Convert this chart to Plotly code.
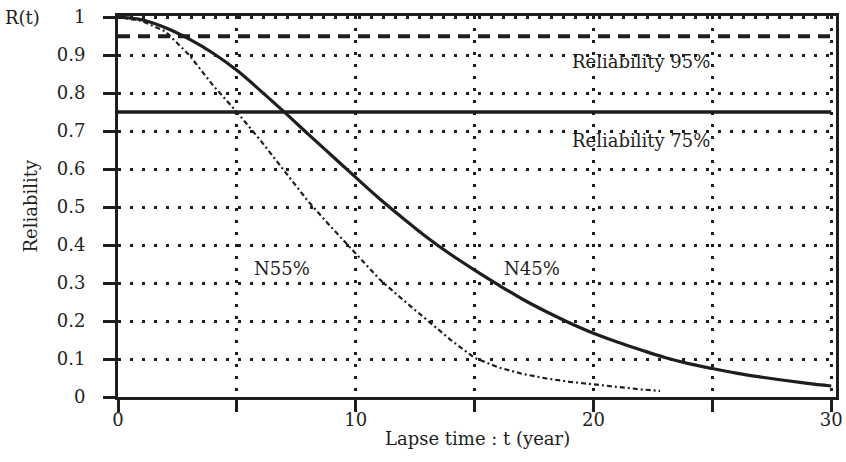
import plotly.graph_objects as go

# Data
t_n45 = [0, 1, 2, 3, 4, 5, 6, 7, 8, 9, 10, 11, 12, 13, 14, 15, 16, 17, 18, 19, 20,
         21, 22, 23, 24, 25, 26, 27, 28, 29, 30]
r_n45 = [1.0, 0.993, 0.972, 0.942, 0.905, 0.86, 0.806, 0.75, 0.692, 0.635, 0.578,
         0.522, 0.47, 0.42, 0.375, 0.334, 0.295, 0.258, 0.225, 0.195, 0.168,
         0.145, 0.124, 0.104, 0.088, 0.075, 0.063, 0.053, 0.044, 0.036, 0.029]

t_n55 = [0, 1, 2, 3, 4, 5, 6, 7, 8, 9, 10, 11, 12, 13, 14, 15, 16, 17, 18, 19, 20,
         21, 22, 22.8]
r_n55 = [1.0, 0.99, 0.962, 0.9, 0.82, 0.75, 0.675, 0.595, 0.515, 0.445, 0.378,
         0.31, 0.255, 0.203, 0.15, 0.103, 0.078, 0.061, 0.049, 0.04, 0.033,
         0.026, 0.02, 0.016]

level_values = [0.95, 0.75]
level_labels = ["Reliability 95%", "Reliability 75%"]
level_label_y = [0.882, 0.676]
x_range = [0, 30]

curve_labels = ["N55%", "N45%"]
curve_label_x = [6.9, 17.4]
curve_label_y = [0.338, 0.338]

x_tickvals = [0, 5, 10, 15, 20, 25, 30]
x_ticktext = ["0", "", "10", "", "20", "", "30"]
y_tickvals = [0, 0.1, 0.2, 0.3, 0.4, 0.5, 0.6, 0.7, 0.8, 0.9, 1.0]
y_ticktext = ["0", "0.1", "0.2", "0.3", "0.4", "0.5", "0.6", "0.7", "0.8", "0.9", "1"]

INK = "#1e1e1e"
FONT = "DejaVu Serif"
FS = 18

fig = go.Figure()

# reference reliability levels
fig.add_trace(go.Scatter(x=x_range, y=[level_values[0]] * 2, mode="lines",
                         line=dict(color=INK, width=4, dash="12px,8px"),
                         hoverinfo="skip", showlegend=False))
fig.add_trace(go.Scatter(x=x_range, y=[level_values[1]] * 2, mode="lines",
                         line=dict(color=INK, width=3.5),
                         hoverinfo="skip", showlegend=False))

fig.add_trace(go.Scatter(x=t_n55, y=r_n55, mode="lines", name="N55%",
                         line=dict(color=INK, width=2.2, dash="5px,3px,2px,3px"),
                         showlegend=False))
fig.add_trace(go.Scatter(x=t_n45, y=r_n45, mode="lines", name="N45%",
                         line=dict(color=INK, width=3.2, shape="spline"),
                         showlegend=False))

for txt, yv in zip(level_labels, level_label_y):
    fig.add_annotation(x=25, y=yv, xref="x", yref="y", text=txt, showarrow=False,
                       xanchor="right", font=dict(family=FONT, size=FS, color=INK))
for txt, xv, yv in zip(curve_labels, curve_label_x, curve_label_y):
    fig.add_annotation(x=xv, y=yv, xref="x", yref="y", text=txt, showarrow=False,
                       font=dict(family=FONT, size=FS, color=INK))

fig.add_annotation(x=0, y=1.0, xref="paper", yref="y", xshift=-76, text="R(t)",
                   showarrow=False, xanchor="right",
                   font=dict(family=FONT, size=FS, color=INK))
fig.add_annotation(x=0, y=0.5, xref="paper", yref="paper", xshift=-88,
                   xanchor="center", yanchor="middle",
                   text="Reliability", textangle=-90, showarrow=False,
                   font=dict(family=FONT, size=FS, color=INK))
fig.add_annotation(x=0.5, y=0, xref="paper", yref="paper", yshift=-41,
                   xanchor="center", yanchor="middle",
                   text="Lapse time : t (year)", showarrow=False,
                   font=dict(family=FONT, size=FS, color=INK))

fig.update_xaxes(range=[0, 30.2], tickvals=x_tickvals, ticktext=x_ticktext,
                 showgrid=True, gridcolor=INK, gridwidth=3, griddash="3px,9px",
                 showline=True, linecolor=INK, linewidth=3, mirror=True,
                 ticks="outside", ticklen=12, tickwidth=3, tickcolor=INK,
                 ticklabelstandoff=-8,
                 zeroline=False, automargin=False,
                 tickfont=dict(family=FONT, size=FS, color=INK))
fig.update_yaxes(range=[0, 1.003], tickvals=y_tickvals, ticktext=y_ticktext,
                 showgrid=True, gridcolor=INK, gridwidth=3, griddash="3px,9px",
                 showline=True, linecolor=INK, linewidth=3, mirror=True,
                 ticks="outside", ticklen=12, tickwidth=3, tickcolor=INK,
                 ticklabelstandoff=14, zeroline=False, automargin=False,
                 tickfont=dict(family=FONT, size=FS, color=INK))

fig.update_layout(width=846, height=462, plot_bgcolor="white", paper_bgcolor="white",
                  margin=dict(l=118, r=10, t=16, b=65))

fig.write_html("out.html")
